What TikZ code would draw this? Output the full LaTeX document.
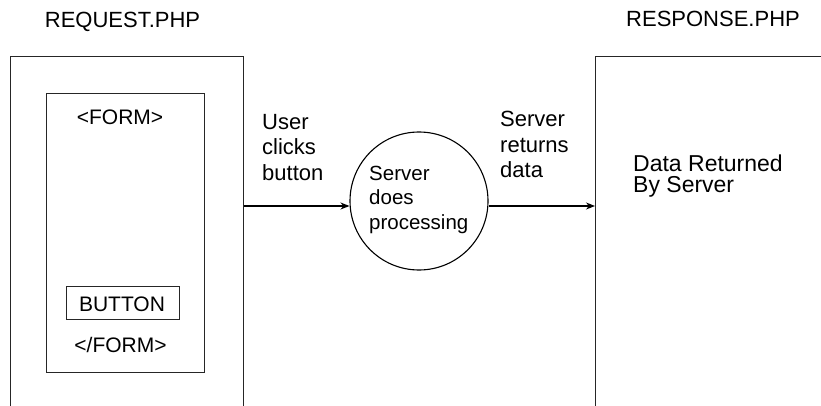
\documentclass[tikz,border=0pt]{standalone}
\usepackage{fontspec}
\setmainfont{Liberation Sans}
\usetikzlibrary{arrows.meta}
\begin{document}
\begin{tikzpicture}[x=1pt,y=-1pt,
  frame/.style={draw=black!85, line width=1.4pt, rectangle, inner sep=0pt},
  thin/.style={draw=black!85, line width=1.1pt, rectangle, inner sep=0pt},
  title/.style={inner sep=0pt, anchor=base, font=\fontsize{22}{26}\selectfont},
  lbl/.style={inner sep=0pt, anchor=base west, align=left, font=\fontsize{22}{25.5}\selectfont},
  formtxt/.style={inner sep=0pt, anchor=base, font=\fontsize{21}{25}\selectfont},
  arr/.style={draw=black, line width=1.1pt, -{Stealth[length=9pt,width=7pt]}},
  proc/.style={circle, draw=black, line width=1.1pt, minimum size=138pt, inner sep=0pt}
]
\useasboundingbox (0,0) rectangle (821,406);
\clip (0,0) rectangle (821,406);
\fill[white] (0,0) rectangle (821,406);

\node[title] (req) at (122.5,28) {REQUEST.PHP};
\node[title] (resp) at (713,27) {RESPONSE.PHP};

\node[frame, minimum width=233pt, minimum height=380pt, anchor=north west] (leftpage) at (10,56) {};
\node[thin, minimum width=158pt, minimum height=279pt, anchor=north west] (form) at (46,93) {};
\node[thin, minimum width=113pt, minimum height=33pt, anchor=north west] (button) at (66,286) {};
\node[formtxt] (buttontxt) at (122,311) {BUTTON};
\node[formtxt] (formopen) at (120,125) {<FORM>};
\node[formtxt] (formclose) at (120.5,352) {</FORM>};

\node[frame, minimum width=260pt, minimum height=380pt, anchor=north west] (rightpage) at (595,56) {};

\node[proc] (proc) at (419,201) {};
\node[lbl, font=\fontsize{20.5}{24.5}\selectfont] (proctxt) at (369,229) {Server\\does\\processing};

\node[lbl] (click) at (262,180) {User\\clicks\\button};
\node[lbl] (ret) at (500,178) {Server\\returns\\data};
\node[lbl, font=\fontsize{23}{21}\selectfont] (data) at (633,193) {Data Returned\\By Server};

\path (proc.center) ++(0,5) coordinate (ay);
\draw[arr] (ay -| leftpage.east) -- (ay -| proc.west);
\draw[arr] (ay -| proc.east) -- (ay -| rightpage.west);
\end{tikzpicture}
\end{document}
